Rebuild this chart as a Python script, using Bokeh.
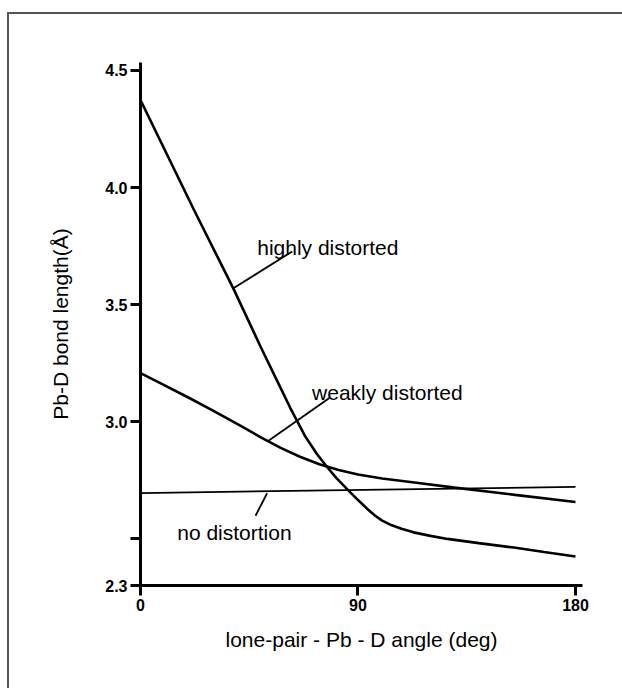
from bokeh.plotting import figure
from bokeh.models import FixedTicker, Range1d
from bokeh.core.properties import value
from bokeh.embed import file_html
from bokeh.resources import INLINE

# ---- data ----
angle_high = [0, 22, 38.6, 49.7, 56.5, 62, 68, 73, 77.3, 81, 85.5, 90, 94, 97, 100, 104, 108,
              113, 120, 127, 140, 154.5, 167, 180]
len_high = [4.374, 3.907, 3.565, 3.32, 3.175, 3.058, 2.94, 2.862, 2.805, 2.76, 2.712, 2.665, 2.626,
            2.599, 2.577, 2.557, 2.542, 2.527, 2.512, 2.499, 2.481, 2.462, 2.443, 2.424]

angle_weak = [0, 10, 20, 30, 40, 50, 58, 66, 74, 82, 90, 100, 115, 130, 155, 180]
len_weak = [3.207, 3.155, 3.102, 3.047, 2.99, 2.932, 2.888, 2.850, 2.818, 2.793, 2.774, 2.757,
            2.738, 2.718, 2.687, 2.657]

angle_none = [0, 180]
len_none = [2.695, 2.721]

x_ticks = [0, 90, 180]
x_tick_labels = ["0", "90", "180"]
y_ticks = [2.3, 2.5, 3.0, 3.5, 4.0, 4.5]
y_tick_labels = ["2.3", "", "3.0", "3.5", "4.0", "4.5"]

labels = ["highly distorted", "weakly distorted", "no distortion"]
label_x = [48.3, 71.0, 15.2]
label_y = [3.745, 3.125, 2.527]

# leader lines (from curve to label)
lead_x0 = [38.6, 53.1, 52.4]
lead_y0 = [3.571, 2.919, 2.694]
lead_x1 = [62.8, 78.6, 47.6]
lead_y1 = [3.727, 3.104, 2.598]

FONT = "Liberation Sans"

p = figure(width=622, height=688,
           x_range=Range1d(0, 182.9), y_range=Range1d(2.3, 4.534),
           output_backend="svg", toolbar_location=None,
           min_border_left=140, min_border_right=40,
           min_border_top=62, min_border_bottom=103,
           x_axis_label="lone-pair - Pb - D angle (deg)",
           y_axis_label="Pb-D bond length(Å)")
p.grid.visible = False
p.outline_line_color = None
p.background_fill_color = "white"
p.border_fill_color = None
# page frame of the original figure: only its left and top edges are in view
p.styles = {
    "background-color": "white",
    "background-image": "linear-gradient(#555555, #555555), linear-gradient(#555555, #555555)",
    "background-size": "2px 100%, 100% 2px",
    "background-position": "7px 12px, 7px 12px",
    "background-repeat": "no-repeat",
}

for ax in (p.xaxis[0], p.yaxis[0]):
    ax.axis_line_width = 3
    ax.axis_line_color = "black"
    ax.major_tick_line_width = 3
    ax.major_tick_line_color = "black"
    ax.major_tick_out = 10
    ax.major_tick_in = 0
    ax.minor_tick_line_color = None
    ax.major_label_text_font = FONT
    ax.major_label_text_font_style = "bold"
    ax.major_label_text_font_size = "16px"
    ax.major_label_text_color = "black"
    ax.major_label_standoff = 3
    ax.axis_label_text_font = FONT
    ax.axis_label_text_font_style = "normal"
    ax.axis_label_text_font_size = "21px"
    ax.axis_label_text_color = "black"

p.xaxis.ticker = FixedTicker(ticks=x_ticks)
p.xaxis.major_label_overrides = dict(zip(x_ticks, x_tick_labels))
p.yaxis.ticker = FixedTicker(ticks=y_ticks)
p.yaxis.major_label_overrides = dict(zip(y_ticks, y_tick_labels))
p.xaxis.axis_label_standoff = 14
p.yaxis.axis_label_standoff = 30

p.line(angle_high, len_high, line_color="black", line_width=2.6)
p.line(angle_weak, len_weak, line_color="black", line_width=2.6)
p.line(angle_none, len_none, line_color="black", line_width=1.8)

p.segment(x0=lead_x0, y0=lead_y0, x1=lead_x1, y1=lead_y1, line_color="black", line_width=1.8)

p.text(x=label_x, y=label_y, text=labels, text_font=value(FONT), text_font_size="21px",
       text_color="black", text_baseline="alphabetic", text_align="left")

open("out.html", "w").write(file_html(p, INLINE))
